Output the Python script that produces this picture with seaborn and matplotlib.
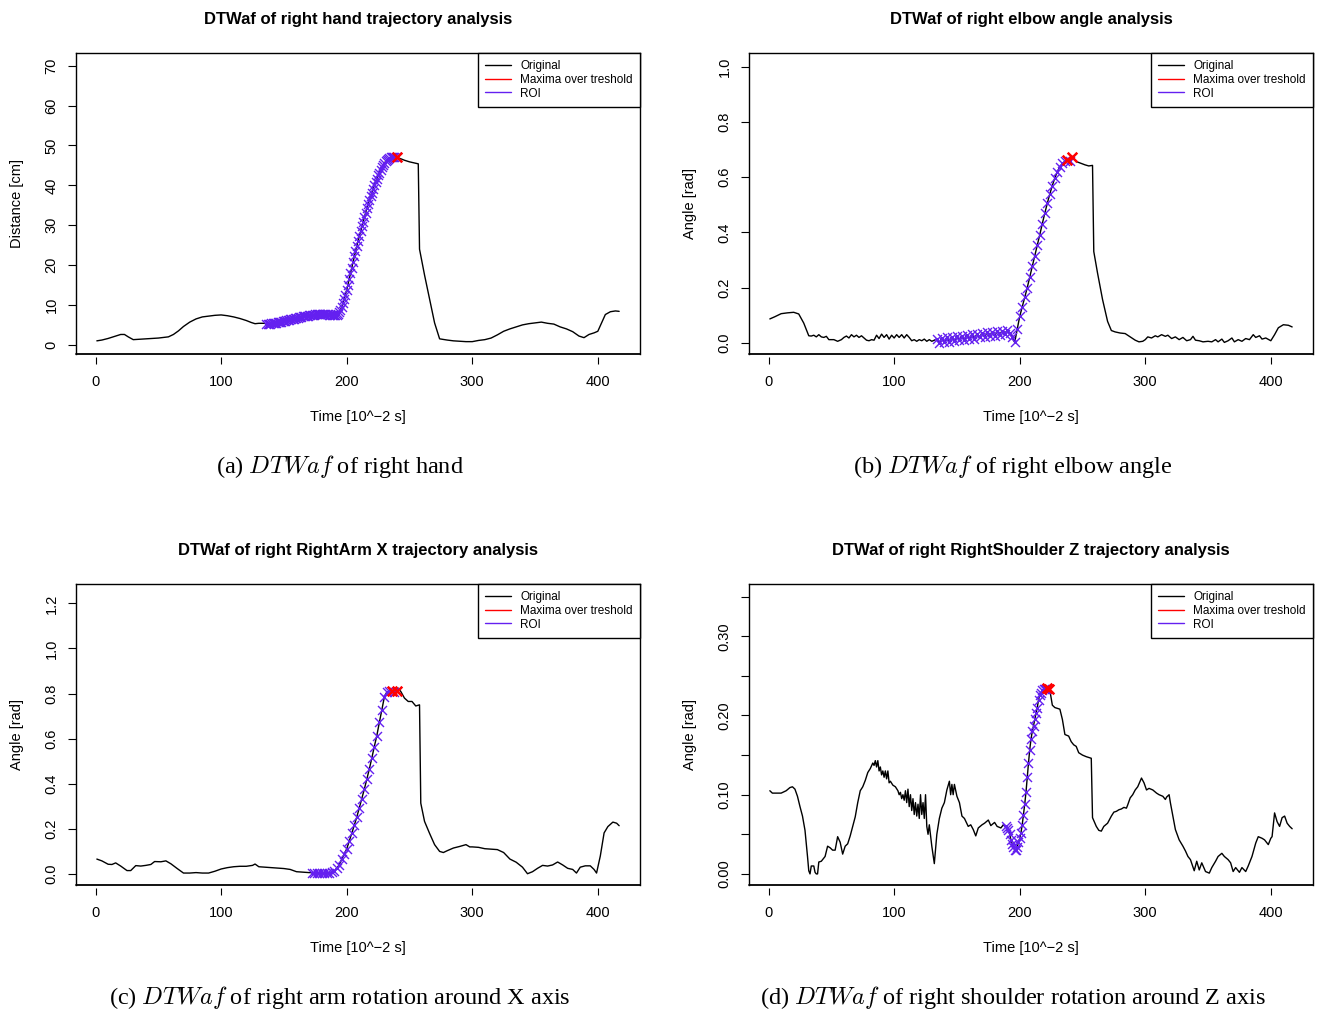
import numpy as np
import pandas as pd
import seaborn as sns
import matplotlib.pyplot as plt
from matplotlib.lines import Line2D

# ---- data (time in 10^-2 s) ----
hand_t = [1, 5, 10, 15, 20, 23, 26, 30, 35, 40, 50, 58, 62, 66, 70, 75, 80, 85,
          90, 95, 100, 105, 110, 115, 120, 124, 127, 130, 134] + \
    list(range(136, 241)) + \
    [242, 246, 250, 254, 257, 258, 262, 266, 270, 274, 280, 285, 290, 295, 300,
     305, 310, 315, 320, 325, 330, 335, 340, 345, 350, 355, 360, 365, 370, 375,
     380, 385, 389, 393, 397, 400, 403, 406, 410, 414, 417]
hand_v = [1.0, 1.2, 1.6, 2.1, 2.6, 2.6, 2.0, 1.3, 1.4, 1.5, 1.7, 2.0, 2.6, 3.5,
          4.6, 5.7, 6.5, 7.0, 7.2, 7.4, 7.5, 7.3, 7.0, 6.6, 6.1, 5.6, 5.3, 5.4,
          5.4,
          # ROI, one value per time step (136 .. 240)
          5.3, 5.3, 5.3, 5.35, 5.4, 5.45, 5.5, 5.55, 5.6, 5.65,
          5.7, 5.75, 5.8, 5.9, 6.0, 6.1, 6.2, 6.25, 6.3, 6.4,
          6.5, 6.55, 6.6, 6.7, 6.8, 6.85, 6.9, 7.0, 7.1, 7.15,
          7.2, 7.25, 7.3, 7.35, 7.4, 7.45, 7.5, 7.55, 7.6, 7.65,
          7.7, 7.7, 7.7, 7.75, 7.8, 7.8, 7.8, 7.75, 7.7, 7.65,
          7.6, 7.55, 7.5, 7.5, 7.5, 7.5, 7.5, 7.7, 8.2, 8.8,
          9.5, 10.5, 11.5, 12.6, 13.8, 15.1, 16.5, 17.9, 19.3, 20.8,
          22.2, 23.5, 24.8, 26.0, 27.3, 28.5, 29.7, 30.9, 32.0, 33.1,
          34.2, 35.3, 36.3, 37.3, 38.2, 39.1, 40.0, 40.9, 41.7, 42.5,
          43.2, 43.9, 44.5, 45.1, 45.6, 46.0, 46.4, 46.7, 46.9, 47.0,
          47.1, 47.1, 47.1, 47.05, 47.0,
          46.8, 46.3, 45.9, 45.6, 45.4, 24.0, 17.5, 11.5, 5.5, 1.5, 1.2, 1.0, 0.9,
          0.8, 0.8, 1.1, 1.3, 1.7, 2.5, 3.4, 4.0, 4.5, 5.0, 5.3, 5.5, 5.7, 5.4,
          5.2, 4.5, 4.0, 3.3, 2.2, 1.8, 2.6, 3.0, 3.4, 5.5, 7.6, 8.3, 8.5, 8.4]

elbow_t = [1, 5, 10, 15, 20, 24, 28, 32, 34, 36, 38, 40, 42, 44, 46, 48, 52, 55,
           58, 60, 62, 64, 66, 68, 70, 72, 74, 76, 78, 80, 82, 84, 86, 88, 90,
           92, 94, 96, 98, 100, 102, 104, 106, 108, 110, 112, 114, 116, 118,
           120, 122, 124, 126, 128, 130, 132] + \
    list(range(134, 241, 2)) + \
    [242, 245, 248, 252, 255, 258, 259, 262, 266, 270, 273, 276, 280, 284, 288,
     292, 295, 298, 300, 302, 305, 308, 310, 313, 316, 318, 321, 324, 327, 330,
     333, 336, 338, 340, 343, 346, 350, 353, 356, 358, 361, 363, 366, 369, 371,
     374, 377, 380, 383, 386, 388, 391, 393, 396, 400, 403, 406, 410, 414, 417]
elbow_v = [.087, .095, .106, .109, .111, .105, .072, .026, .025, .028, .022, .03,
           .022, .02, .024, .012, .012, .006, .012, .02, .025, .018, .03, .022,
           .028, .02, .026, .018, .01, .008, .012, .01, .028, .016, .032, .02,
           .03, .014, .028, .018, .03, .02, .03, .018, .03, .02, .008, .012,
           .006, .012, .008, .014, .006, .012, .006, .01,
           .015, .0, .018, .004, .02, .002, .022, .006, .024, .01, .026, .012,
           .03, .014, .032, .016, .034, .02, .036, .022, .038, .024, .04, .026,
           .042, .03, .044, .032, .046, .036, .02, .002, .05, .096, .13, .165,
           .2, .238, .277, .316, .354, .392, .432, .47, .506, .54, .57, .598,
           .62, .638, .65, .658, .664, .66,
           .674, .657, .652, .645, .641, .643, .331, .253, .157, .078, .045, .04,
           .036, .034, .022, .01, .004, .006, .012, .022, .018, .026, .022, .03,
           .024, .028, .016, .022, .012, .02, .008, .012, .024, .01, .008, .004,
           .006, .004, .012, .004, .014, .002, .008, .018, .004, .012, .006,
           .016, .012, .03, .02, .026, .014, .018, .008, .03, .055, .066, .064,
           .058]

arm_t = [1, 5, 10, 13, 16, 20, 25, 28, 32, 36, 40, 44, 47, 52, 56, 60, 65, 70,
         75, 80, 85, 90, 95, 100, 105, 110, 115, 120, 125, 127, 130, 135, 140,
         145, 150, 155, 160, 165, 170] + \
    list(range(172, 241, 2)) + \
    [241, 243, 246, 249, 252, 255, 258, 259, 262, 266, 270, 274, 277, 280, 285,
     290, 295, 298, 300, 305, 310, 315, 320, 325, 330, 335, 340, 344, 348, 352,
     356, 360, 364, 368, 372, 376, 380, 383, 386, 390, 394, 397, 399, 402, 405,
     408, 412, 415, 417]
arm_v = [.066, .058, .043, .042, .049, .035, .015, .015, .037, .035, .038, .042,
         .055, .054, .058, .045, .024, .004, .004, .006, .004, .004, .012, .022,
         .028, .032, .034, .034, .038, .044, .032, .03, .028, .026, .024, .02,
         .01, .008, .006,
         .006, .004, .005, .003, .004, .003, .004, .005, .007, .012, .025, .04,
         .065, .088, .111, .145, .18, .215, .252, .292, .334, .375, .42, .465,
         .514, .565, .614, .672, .728, .785, .808, .81, .812, .808, .81,
         .824, .81, .78, .765, .765, .745, .75, .314, .233, .18, .13, .1, .095,
         .103, .115, .122, .13, .12, .12, .118, .112, .11, .108, .095, .066,
         .052, .03, .001, .01, .025, .038, .035, .04, .053, .04, .025, .02,
         .004, .03, .036, .036, .02, .004, .08, .182, .21, .23, .225, .214]

shoulder_t = [1, 3, 6, 10, 14, 17, 19, 21, 23, 25, 27, 29, 31, 32, 33, 34, 36,
              37, 38, 39, 40, 42, 44, 45, 47, 49, 51, 53, 55, 57, 59, 61, 63, 65,
              67, 69, 71, 73, 75, 77, 79, 81, 83, 84, 85, 86, 87, 88, 89, 90, 91,
              92, 93, 94, 95, 96, 97, 99, 101, 103, 104, 105, 106, 107, 108, 109,
              110, 111, 112, 113, 114, 115, 116, 117, 118, 119, 120, 121, 122,
              123, 124, 125, 126, 127, 128, 130, 132, 134, 136, 138, 140, 142,
              144, 145, 146, 147, 148, 150, 152, 154, 156, 159, 161, 163, 165,
              167, 170, 172, 175, 177, 180, 182, 185, 187] + \
    list(range(189, 224)) + \
    [224, 226, 228, 230, 232, 234, 236, 239, 241, 243, 245, 247, 250, 253, 257,
     258, 261, 263, 265, 267, 270, 273, 275, 277, 279, 281, 283, 285, 286, 288,
     290, 292, 294, 297, 299, 301, 303, 306, 309, 311, 314, 316, 317, 319, 320,
     322, 324, 327, 330, 332, 334, 336, 339, 341, 343, 345, 348, 351, 353, 356,
     358, 361, 363, 366, 368, 370, 372, 375, 377, 380, 382, 385, 388, 390, 393,
     395, 398, 400, 401, 403, 405, 407, 409, 411, 413, 415, 417]
shoulder_v = [.105, .102, .102, .102, .105, .109, .11, .107, .098, .085, .073,
              .055, .022, .004, .0, .01, .01, .002, .0, .0, .015, .016, .02,
              .022, .035, .033, .03, .03, .047, .04, .025, .035, .038, .048, .06,
              .072, .09, .105, .11, .118, .128, .133, .14, .137, .143, .135,
              .143, .13, .135, .125, .13, .122, .13, .12, .13, .115, .117, .112,
              .11, .105, .1, .103, .095, .1, .093, .105, .09, .107, .085, .1,
              .08, .095, .075, .09, .073, .088, .07, .1, .075, .09, .07, .1, .06,
              .05, .062, .035, .013, .05, .07, .083, .09, .106, .117, .1, .113,
              .1, .113, .098, .09, .073, .07, .06, .062, .056, .048, .058, .062,
              .064, .068, .061, .065, .06, .058, .062,
              .06, .058, .056, .05, .043, .038, .034, .03, .03, .034, .04, .045,
              .052, .062, .075, .088, .103, .122, .14, .157, .17, .18, .187,
              .195, .203, .21, .22, .226, .229, .232, .233, .234, .234, .235,
              .234,
              .232, .213, .21, .209, .208, .195, .176, .174, .167, .163, .161,
              .153, .15, .148, .146, .071, .06, .055, .054, .06, .064, .073, .078,
              .079, .081, .082, .084, .083, .087, .096, .1, .106, .11, .121, .115,
              .106, .108, .106, .102, .1, .098, .094, .097, .1, .09, .073, .056,
              .043, .035, .029, .022, .018, .004, .016, .005, .014, .003, .001,
              .008, .016, .022, .026, .022, .018, .014, .003, .008, .002, .008,
              .003, .01, .022, .039, .047, .045, .043, .037, .045, .047, .077,
              .066, .06, .071, .073, .064, .06, .057]

titles = ["DTWaf of right hand trajectory analysis",
          "DTWaf of right elbow angle analysis",
          "DTWaf of right RightArm X trajectory analysis",
          "DTWaf of right RightShoulder Z trajectory analysis"]
ylabels = ["Distance [cm]", "Angle [rad]", "Angle [rad]", "Angle [rad]"]
captions = [r"(a) $DTWaf$ of right hand",
            r"(b) $DTWaf$ of right elbow angle",
            r"(c) $DTWaf$ of right arm rotation around X axis",
            r"(d) $DTWaf$ of right shoulder rotation around Z axis"]
roi_ranges = [(136, 240), (134, 240), (172, 240), (189, 223)]
maxima_t = [[240], [238, 242], [236, 240], [222, 223]]
ylims = [(-2.3, 73.2), (-0.04, 1.05), (-0.049, 1.286), (-0.014, 0.366)]
yticks = [np.arange(0, 71, 10), np.arange(0, 1.01, 0.2),
          np.arange(0, 1.21, 0.2), np.arange(0, 0.351, 0.05)]

series = [(hand_t, hand_v), (elbow_t, elbow_v), (arm_t, arm_v),
          (shoulder_t, shoulder_v)]

ROI_COLOR = "#6420F0"
MAX_COLOR = "#FF0000"

sns.set_theme(style="white")
plt.rcParams["font.family"] = ["Liberation Sans", "DejaVu Sans"]
plt.rcParams["mathtext.fontset"] = "cm"
for key in ["text.color", "axes.labelcolor", "xtick.color", "ytick.color"]:
    plt.rcParams[key] = "black"

fig = plt.figure(figsize=(13.2, 10.13), dpi=100)
W, H = 1320.0, 1013.0
boxes = [(76, 53), (749, 53), (76, 584), (749, 584)]

for i, (tt, vv) in enumerate(series):
    x0, y0 = boxes[i]
    ax = fig.add_axes([x0 / W, 1 - (y0 + 301) / H, 564 / W, 301 / H])
    df = pd.DataFrame({"t": tt, "v": vv})
    lo, hi = roi_ranges[i]
    roi = df[(df["t"] >= lo) & (df["t"] <= hi)]
    peak = df[df["t"].isin(maxima_t[i])]

    sns.lineplot(data=df, x="t", y="v", ax=ax, color="black", linewidth=1,
                 sort=False, estimator=None)
    sns.scatterplot(data=roi, x="t", y="v", ax=ax, marker="x", color=ROI_COLOR,
                    s=42, linewidth=1, zorder=3)
    sns.scatterplot(data=peak, x="t", y="v", ax=ax, marker="x",
                    color=MAX_COLOR, s=48, linewidth=1.8, zorder=4)

    ax.set_xlim(-15.6, 433.6)
    ax.set_ylim(*ylims[i])
    ax.set_xticks([0, 100, 200, 300, 400])
    ax.set_yticks(yticks[i])
    if i == 3:
        ax.set_yticklabels(["0.00", "", "0.10", "", "0.20", "", "0.30", ""])
    elif i == 0:
        ax.set_yticklabels([str(int(v)) for v in yticks[i]])
    else:
        ax.set_yticklabels(["%.1f" % v for v in yticks[i]])

    # R style frame: full box, x axis ticks detached below
    for side in ["left", "top", "right"]:
        ax.spines[side].set_visible(True)
        ax.spines[side].set_color("black")
        ax.spines[side].set_linewidth(1)
    ax.spines["bottom"].set_position(("outward", 2))
    ax.spines["bottom"].set_visible(False)
    ax.plot([0, 1], [0, 0], transform=ax.transAxes, color="black", lw=1.3,
            clip_on=False, zorder=5)
    ax.tick_params(axis="x", bottom=True, length=5, width=0.8, color="black",
                   labelsize=10.5, pad=8)
    ax.tick_params(axis="y", left=True, length=5.5, width=0.8, color="black",
                   labelsize=10.5, pad=7)
    for lab in ax.get_yticklabels():
        lab.set_rotation(90)
        lab.set_va("center")

    ax.set_xlabel("Time [10^\u22122 s]", fontsize=10.5, labelpad=15)
    ax.set_ylabel(ylabels[i], fontsize=10.5, labelpad=15)
    ax.set_title(titles[i], fontsize=12, fontweight="bold", pad=21)

    handles = [Line2D([], [], color="black", lw=1),
               Line2D([], [], color=MAX_COLOR, lw=1),
               Line2D([], [], color=ROI_COLOR, lw=1)]
    leg = ax.legend(handles, ["Original", "Maxima over treshold", "ROI"],
                    loc="upper right", bbox_to_anchor=(1, 1), borderaxespad=0,
                    fancybox=False, framealpha=1, edgecolor="black",
                    fontsize=8.5, handlelength=2.2, handletextpad=0.8,
                    labelspacing=0.15, borderpad=0.6)
    leg.get_frame().set_linewidth(1)

    fig.text((x0 + 264) / W, 1 - (y0 + 413) / H, captions[i],
             ha="center", va="center", fontsize=17.5,
             family=["Liberation Serif", "DejaVu Serif"])

fig.savefig("out.png", dpi=100, facecolor="white")
